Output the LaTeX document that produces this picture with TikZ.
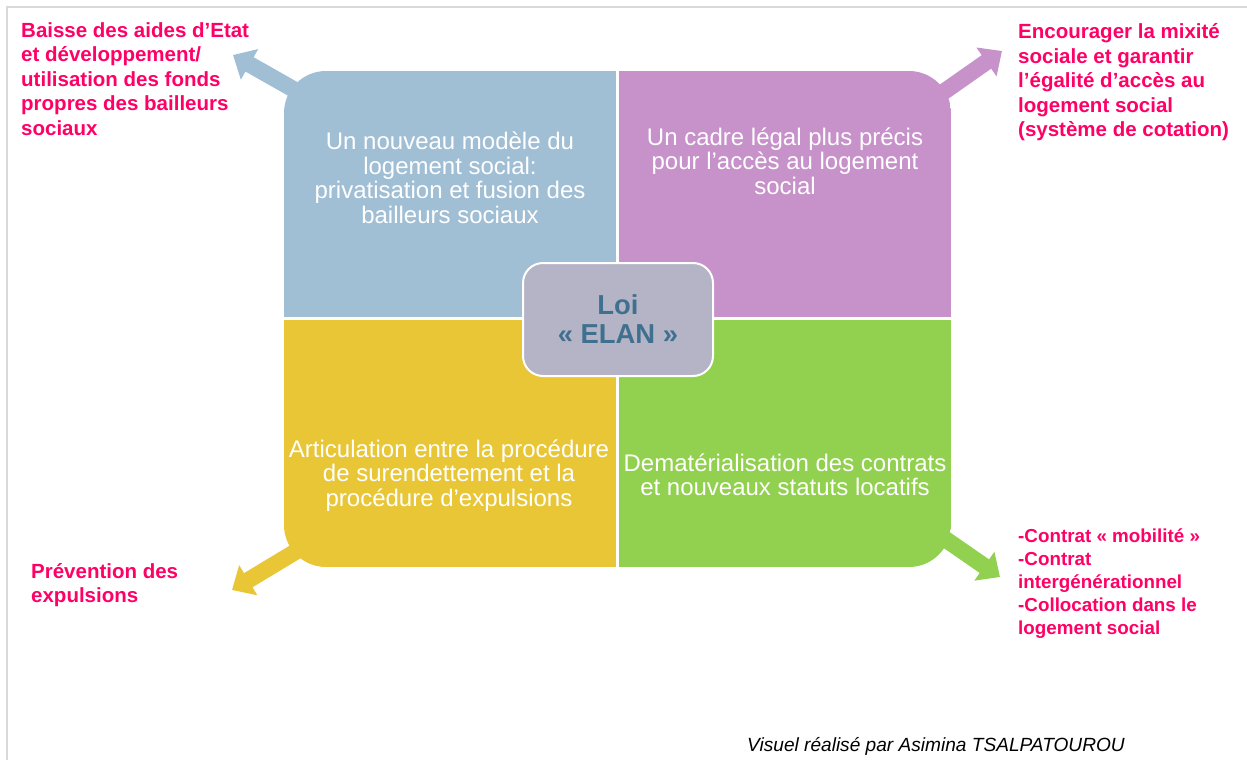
\documentclass[tikz,border=0pt]{standalone}
\usepackage{fontspec}
\setmainfont{Liberation Sans}
\usetikzlibrary{arrows.meta,positioning}

\definecolor{quadblue}{RGB}{160,190,212}
\definecolor{quadmauve}{RGB}{199,145,202}
\definecolor{quadyellow}{RGB}{233,198,54}
\definecolor{quadgreen}{RGB}{146,208,80}
\definecolor{loigray}{RGB}{180,180,198}
\definecolor{loitext}{RGB}{64,112,143}
\definecolor{goalpink}{RGB}{255,0,102}
\definecolor{framegray}{RGB}{217,217,217}

\begin{document}
\begin{tikzpicture}[x=1pt,y=-1pt,
    quadtext/.style={text=white,align=center,inner sep=0pt,font=\fontsize{24}{24.5}\selectfont},
    goal/.style={text=goalpink,align=left,anchor=north west,inner sep=0pt,font=\bfseries\fontsize{20.5}{24.5}\selectfont},
    fatarrow/.style={line width=16.5pt,-{Triangle[width=34pt,length=19pt]}}]
  \useasboundingbox (0,0) rectangle (1247,760);
  \draw[framegray,line width=2pt] (1247,7) -- (7,7) -- (7,760);

  % arrows, behind the matrix
  \coordinate (tlfoot) at (300,93);
  \coordinate (trfoot) at (935,98);
  \coordinate (blfoot) at (300,549);
  \coordinate (brfoot) at (935,532);
  \coordinate (tltip) at (233,55);
  \coordinate (trtip) at (1002,51);
  \coordinate (bltip) at (232,590);
  \coordinate (brtip) at (1000,577);
  \draw[fatarrow,quadblue] (tlfoot) -- (tltip);
  \draw[fatarrow,quadmauve] (trfoot) -- (trtip);
  \draw[fatarrow,quadyellow] (blfoot) -- (bltip);
  \draw[fatarrow,quadgreen] (brfoot) -- (brtip);

  % the four quadrants
  \begin{scope}
    \clip[rounded corners=42pt] (284,71) rectangle (951,567);
    \fill[quadblue] (284,71) rectangle (616,317);
    \fill[quadmauve] (619,71) rectangle (951,317);
    \fill[quadyellow] (284,320) rectangle (616,567);
    \fill[quadgreen] (619,320) rectangle (951,567);
  \end{scope}

  \node[quadtext] (qtl) at (450,178) {Un nouveau modèle du\\logement social:\\privatisation et fusion des\\bailleurs sociaux};
  \node[quadtext] (qtr) at (785,161) {Un cadre légal plus précis\\pour l’accès au logement\\social};
  \node[quadtext] (qbl) at (449,475.5) {Articulation entre la procédure\\de surendettement et la\\procédure d’expulsions};
  \node[quadtext] (qbr) at (785,475) {Dematérialisation des contrats\\et nouveaux statuts locatifs};

  \node[draw=white,line width=2pt,fill=loigray,rounded corners=20pt,
        minimum width=190pt,minimum height=113pt,text=loitext,align=center,
        font=\bfseries\fontsize{27.4}{29}\selectfont] (loi) at (618,319.5) {Loi\\«~ELAN~»};

  % goals
  \node[goal] (goaltl) at (21,22) {Baisse des aides d’Etat\\et développement/\\utilisation des fonds\\propres des bailleurs\\sociaux};
  \node[goal] (goaltr) at (1018,23.5) {Encourager la mixité\\sociale et garantir\\l’égalité d’accès au\\logement social\\(système de cotation)};
  \node[goal] (goalbl) at (31,563) {Prévention des\\expulsions};
  \node[goal,font=\bfseries\fontsize{18.8}{23}\selectfont] (goalbr) at (1018,529) {-Contrat «~mobilité~»\\-Contrat\\intergénérationnel\\-Collocation dans le\\logement social};

  \node[font=\itshape\fontsize{19.1}{20}\selectfont,anchor=base west,inner sep=0pt] (credit) at (747,751) {Visuel réalisé par Asimina TSALPATOUROU};
\end{tikzpicture}
\end{document}
